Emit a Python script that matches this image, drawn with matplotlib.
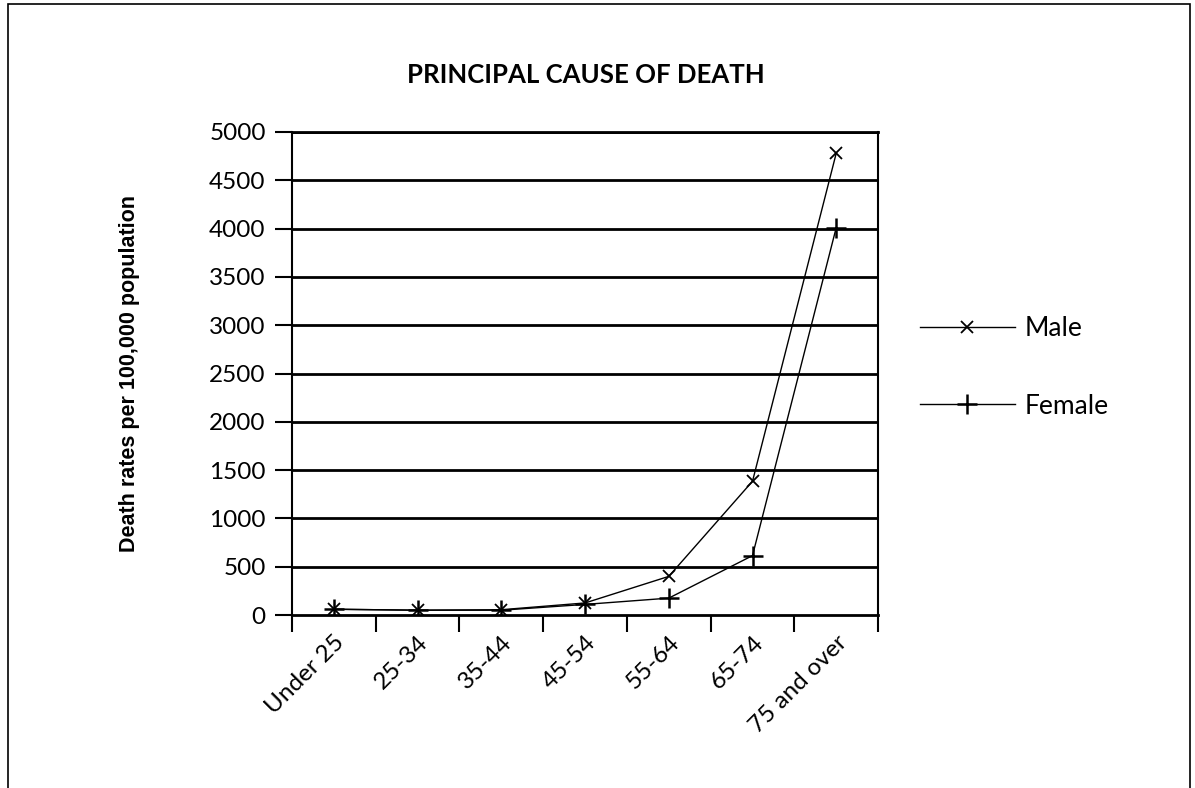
import numpy as np
import matplotlib.pyplot as plt
from matplotlib.patches import Rectangle

# Age groups and death rates per 100,000
age_groups = ['Under 25', '25-34', '35-44', '45-54', '55-64', '65-74', '75 and over']
male = [60, 50, 55, 125, 400, 1385, 4780]
female = [60, 50, 50, 110, 175, 615, 4010]
y_ticks = np.arange(0, 5001, 500)

fig = plt.figure(figsize=(11.95, 7.88), dpi=100)
ax = fig.add_axes([0.2444, 0.2195, 0.4904, 0.613])

x = np.arange(len(age_groups))
ax.plot(x, male, color='black', lw=1, marker='x', ms=8, mew=1.3, label='Male')
ax.plot(x, female, color='black', lw=1, marker='+', ms=14, mew=1.8, label='Female')

# horizontal grid lines
for v in y_ticks[1:]:
    ax.axhline(v, color='black', lw=2, zorder=0)

ax.set_xlim(-0.5, len(age_groups) - 0.5)
ax.set_ylim(0, 5000)

ax.set_yticks(y_ticks)
ax.set_yticklabels([str(v) for v in y_ticks], fontsize=17.5, family='Lato')
ax.tick_params(axis='y', direction='out', length=12, width=1.5, pad=7)

# labels at category centres, tick marks at category boundaries
ax.set_xticks(x)
ax.set_xticklabels(age_groups, rotation=45, ha='right', rotation_mode='anchor',
                   fontsize=17.5, family='Lato')
ax.tick_params(axis='x', which='major', length=0, pad=12)
ax.set_xticks(np.arange(-0.5, len(age_groups), 1), minor=True)
ax.tick_params(axis='x', which='minor', direction='out', length=12, width=1.5)

for s in ax.spines.values():
    s.set_color('black')
ax.spines['left'].set_linewidth(1.5)
ax.spines['bottom'].set_linewidth(2)
ax.spines['right'].set_linewidth(1.5)
ax.spines['top'].set_linewidth(2)

ax.set_ylabel('Death rates per 100,000 population', fontsize=15.5, fontweight='bold',
              family='Liberation Sans', labelpad=50)

fig.text(0.49, 0.905, 'PRINCIPAL CAUSE OF DEATH', ha='center', va='center',
         fontsize=18.5, fontweight='bold', family='Lato')

fig.legend(loc='center left', bbox_to_anchor=(0.7496, 0.534), frameon=False,
           handlelength=3.6, labelspacing=2.0, prop={'family': 'Lato', 'size': 19},
           handletextpad=0.4)

# outer frame
fig.patches.append(Rectangle((0.007, -0.01), 0.989, 1.005, transform=fig.transFigure,
                             fill=False, edgecolor='black', lw=1.2))

fig.savefig('out.png', dpi=100)
